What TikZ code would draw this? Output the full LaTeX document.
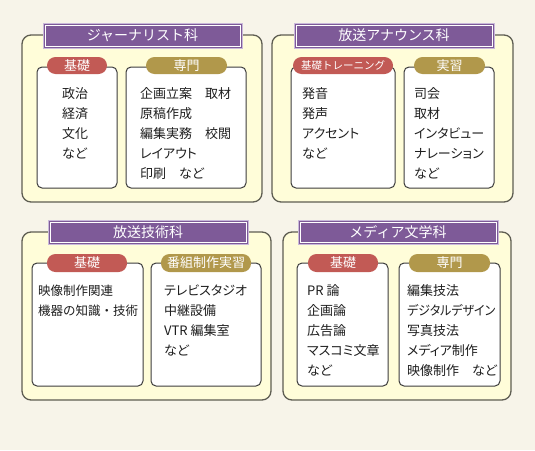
\documentclass[tikz,border=0pt]{standalone}
\usepackage{fontspec}
\setmainfont{Noto Sans CJK JP}
\newfontfamily\listfont[RawFeature=+palt]{Noto Sans CJK JP}
\definecolor{bgc}{HTML}{F7F4E9}
\definecolor{outerfill}{HTML}{FFFDD9}
\definecolor{outerline}{HTML}{5E5D52}
\definecolor{subline}{HTML}{3C3C3C}
\definecolor{purp}{HTML}{7E5A98}
\definecolor{lav}{HTML}{C9B9DA}
\definecolor{pillred}{HTML}{C25A55}
\definecolor{pillgold}{HTML}{B1984B}
\definecolor{txt}{HTML}{1E1E1E}
\tikzset{
  sz/.style 2 args={minimum width=#1pt, minimum height=#2pt},
  outerbox/.style={draw=outerline, fill=outerfill, line width=1.3pt, rounded corners=9pt, inner sep=0, outer sep=0, anchor=north west},
  subbox/.style={draw=subline, fill=white, line width=1pt, rounded corners=5pt, inner sep=0, outer sep=0, anchor=north west},
  titlebar/.style={draw=lav, fill=purp, line width=1pt, inner sep=0, outer sep=0, anchor=north west},
  titletext/.style={text=white, font=\fontsize{14}{14}\selectfont},
  innerline/.style={draw=white, line width=0.7pt},
  pill/.style={fill=#1, rounded corners=8.5pt, inner sep=0, outer sep=0, anchor=north west},
  pilltext/.style={text=white, font=\fontsize{13}{13}\selectfont},
  list/.style={anchor=base west, inner sep=0, text=txt, font=\listfont\fontsize{13}{13}\selectfont},
}
\begin{document}
\begin{tikzpicture}[x=1pt,y=-1pt]
\fill[bgc] (0,0) rectangle (535,450);
\useasboundingbox (0,0) rectangle (535,450);

% ---------- Panel 1
\node[outerbox, sz={240}{167}] (o1) at (22,35) {};
\node[titlebar, sz={199}{25}] (t1) at (43,23) {};
\draw[innerline] ([shift={(2pt,-2pt)}]t1.north west) rectangle ([shift={(-2pt,2pt)}]t1.south east);
\node[titletext] (t1l) at (t1.center) {ジャーナリスト科};
\node[subbox, sz={80}{121}] (s11) at (37,67) {};
\node[subbox, sz={120}{121}] (s12) at (126,67) {};
\node[pill=pillred, sz={60}{17}] (p11) at (47,57) {};
\node[pilltext] (p11l) at (p11.center) {基礎};
\node[pill=pillgold, sz={81}{17}] (p12) at (146,57) {};
\node[pilltext] (p12l) at (p12.center) {専門};
\foreach \t [count=\i] in {政治,経済,文化,など}
  \node[list] (l11-\i) at (62,{98+20*(\i-1)}) {\t};
\foreach \t [count=\i] in {企画立案　取材,原稿作成,編集実務　校閲,レイアウト,印刷　など}
  \node[list] (l12-\i) at (140,{98+20*(\i-1)}) {\t};

% ---------- Panel 2
\node[outerbox, sz={241}{167}] (o2) at (272,35) {};
\node[titlebar, sz={200}{25}] (t2) at (294,23) {};
\draw[innerline] ([shift={(2pt,-2pt)}]t2.north west) rectangle ([shift={(-2pt,2pt)}]t2.south east);
\node[titletext] (t2l) at (t2.center) {放送アナウンス科};
\node[subbox, sz={104}{121}] (s21) at (291,67) {};
\node[subbox, sz={90}{121}] (s22) at (404,67) {};
\node[pill=pillred, sz={100}{17}] (p21) at (293,57) {};
\node[pilltext, font=\fontsize{10.5}{10.5}\selectfont] (p21l) at (p21.center) {基礎トレーニング};
\node[pill=pillgold, sz={71}{17}] (p22) at (414,57) {};
\node[pilltext] (p22l) at (p22.center) {実習};
\foreach \t [count=\i] in {発音,発声,アクセント,など}
  \node[list] (l21-\i) at (302,{98+20*(\i-1)}) {\t};
\foreach \t [count=\i] in {司会,取材,インタビュー,ナレーション,など}
  \node[list] (l22-\i) at (414,{98+20*(\i-1)}) {\t};

% ---------- Panel 3
\node[outerbox, sz={249}{168}] (o3) at (22,232) {};
\node[titlebar, sz={200}{24}] (t3) at (48,220) {};
\draw[innerline] ([shift={(2pt,-2pt)}]t3.north west) rectangle ([shift={(-2pt,2pt)}]t3.south east);
\node[titletext] (t3l) at (t3.center) {放送技術科};
\node[subbox, sz={111}{123}] (s31) at (32,263) {};
\node[subbox, sz={110}{123}] (s32) at (151,263) {};
\node[pill=pillred, sz={80}{18}] (p31) at (47,254) {};
\node[pilltext] (p31l) at (p31.center) {基礎};
\node[pill=pillgold, sz={90}{18}] (p32) at (161,254) {};
\node[pilltext] (p32l) at (p32.center) {番組制作実習};
\foreach \t [count=\i] in {映像制作関連,機器の知識・技術}
  \node[list, font=\fontsize{12.5}{12.5}\selectfont] (l31-\i) at (38,{295+20*(\i-1)}) {\t};
\foreach \t [count=\i] in {テレビスタジオ,中継設備,VTR 編集室,など}
  \node[list] (l32-\i) at (164,{295+20*(\i-1)}) {\t};

% ---------- Panel 4
\node[outerbox, sz={228}{168}] (o4) at (283,232) {};
\node[titlebar, sz={200}{24}] (t4) at (298,220) {};
\draw[innerline] ([shift={(2pt,-2pt)}]t4.north west) rectangle ([shift={(-2pt,2pt)}]t4.south east);
\node[titletext] (t4l) at (t4.center) {メディア文学科};
\node[subbox, sz={91}{123}] (s41) at (297,263) {};
\node[subbox, sz={101}{123}] (s42) at (399,263) {};
\node[pill=pillred, sz={70}{18}] (p41) at (308,254) {};
\node[pilltext] (p41l) at (p41.center) {基礎};
\node[pill=pillgold, sz={81}{18}] (p42) at (409,254) {};
\node[pilltext] (p42l) at (p42.center) {専門};
\foreach \t [count=\i] in {PR 論,企画論,広告論,マスコミ文章,など}
  \node[list] (l41-\i) at (307,{295+20*(\i-1)}) {\t};
\node[list] (l42-1) at (407,295) {編集技法};
\node[list, xscale=0.92, transform shape] (l42-2) at (407,315) {デジタルデザイン};
\node[list] (l42-3) at (407,335) {写真技法};
\node[list] (l42-4) at (407,355) {メディア制作};
\node[list] (l42-5) at (407,375) {映像制作　など};
\end{tikzpicture}
\end{document}
